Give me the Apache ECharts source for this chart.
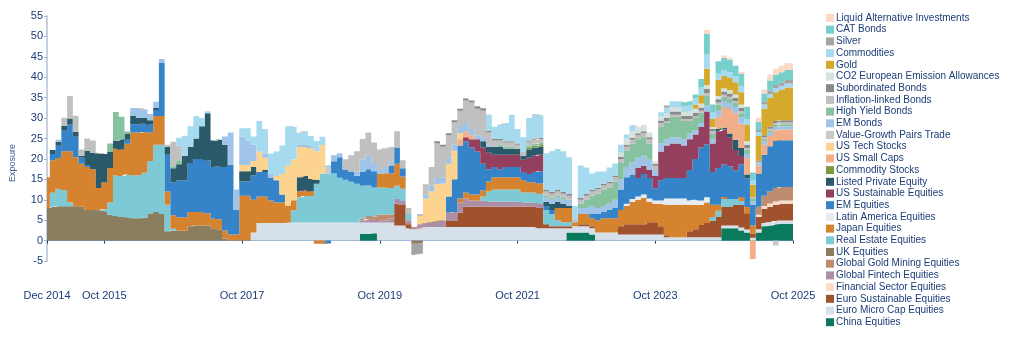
<!DOCTYPE html>
<html><head><meta charset="utf-8">
<script src="https://cdn.jsdelivr.net/npm/echarts@6/dist/echarts.min.js"></script>
<style>html,body{margin:0;padding:0;background:#fff}#c{width:1017px;height:347px}</style>
</head><body><div id="c"></div>
<script>
// Monthly categories Dec 2014 .. Oct 2025 (131 points)
const monthNames = ['Jan','Feb','Mar','Apr','May','Jun','Jul','Aug','Sep','Oct','Nov','Dec'];
const categories = [];
for (let k = 0; k < 131; k++) { const m = 11 + k; categories.push(monthNames[m % 12] + ' ' + (2014 + Math.floor(m / 12))); }
const tickLabels = ['Dec 2014','Oct 2015','Oct 2017','Oct 2019','Oct 2021','Oct 2023','Oct 2025'];

const china = [
0,0,0,0,0,0,0,0,0,0,
0,0,0,0,0,0,0,0,0,0,
0,0,0,0,0,0,0,0,0,0,
0,0,0,0,0,0,0,0,0,0,
0,0,0,0,0,0,0,0,0,0,
0,0,0,0,0,1.6,1.7,1.8,0,0,
0,0,0,0,0,0,0,0,0,0,
0,0,0,0,0,0,0,0,0,0,
0,0,0,0,0,0,0,0,0,0,
0,2,2,2,2,1.5,0,0,0,0,
0,0,0,0,0,0,0,0,0,0,
0,0,0,0,0,0,0,0,3,3,
3,2.5,2,0,2,3.5,3.7,4,4.1,4.1,
4.1];
const euroMicroCap = [
0,0,0,0,0,0,0,0,0,0,
0,0,0,0,0,0,0,0,0,0,
0,0,0,0,0,0,0,0,0,0,
0,0,0,0,0,0,2,4.3,4.3,4.3,
4.3,4.3,4.4,4.4,4.4,4.4,4.4,4.4,4.4,4.4,
4.4,4.4,4.4,4.4,4.4,2.8,2.8,2.6,4.4,4.4,
4.4,3.7,3.7,3,2.8,3,3.3,3.3,3.3,3.3,
3.3,3.3,3.3,3.3,3.3,3.3,3.3,3.3,3.3,3.3,
3.3,3.3,3.3,3.3,3.3,3.3,3,3,3,3,
3,1,1.5,1.5,1.5,1.5,2,2,2,2,
1.5,1.5,1.5,1.5,1.5,1.5,1.5,1.5,0.8,0.8,
0.8,0.8,0.8,0.8,0.8,0.8,0.8,0.8,0.7,0.7,
0.7,0.7,0.7,0.7,0.8,0.8,0.8,0.8,0.8,0.8,
0.8];
const euroSustainable = [
0,0,0,0,0,0,0,0,0,0,
0,0,0,0,0,0,0,0,0,0,
0,0,0,0,0,0,0,0,0,0,
0,0,0,0,0,0,0,0,0,0,
0,0,0,0,0,0,0,0,0,0,
0,0,0,0,0,0,0,0,0,0,
0,5.3,5,1,0,0,0,0,0,0,
1.5,1.5,3.5,5,5,5,5,5,5,5,
5,5,5,5,5,5,5,1,0.5,0.5,
0.5,0.5,0,0.5,0.5,0.5,0,0,0,0,
2,2.5,2.5,2.5,2.5,3,3,2,0.5,0,
0,0,1.5,2,3,3.5,4,5,4.5,4.5,
5,5.5,4,1,3,3.5,3.8,4,4.1,4.1,
4.1];
const financialSector = [
0,0,0,0,0,0,0,0,0,0,
0,0,0,0,0,0,0,0,0,0,
0,0,0,0,0,0,0,0,0,0,
0,0,0,0,0,0,0,0,0,0,
0,0,0,0,0,0,0,0,0,0,
0,0,0,0,0,0,0,0,0,0,
0,0,0,0,0,0,0,0,0,0,
0,0,0,0,0,0,0,0,0,0,
0,0,0,0,0,0,0,0,0,0,
0,0,0,0,0,0,0,0,0,0,
0,0,0,0,0,0,0,0,0,0,
0,0,0,0,0,0,0,0,0,0,
0,0,0,0,0.5,0.7,0.8,0.8,0.8,0.8,
0.8];
const globalFintech = [
0,0,0,0,0,0,0,0,0,0,
0,0,0,0,0,0,0,0,0,0,
0,0,0,0,0,0,0,0,0,0,
0,0,0,0,0,0,0,0,0,0,
0,0,0,0,0,0,0,0,0,0,
0,0,0,0,0,0.5,0.7,0.7,0.5,0.5,
1,1.2,1,1,0.5,1,1,1.2,1.5,1.7,
2,2.2,2.5,2,1.5,1.5,1.5,1.2,1.2,1.2,
1.2,1.2,1.2,1,1,1,1,0,0,0,
0,0,0,0,0,0,0,0,0,0,
0,0,0,0,0,0,0,0,0,0,
0,0,0,0,0,0,0,0,0,0,
0,0,0,0,0,0,0,0,0,0,
0];
const globalGoldMining = [
0,0,0,0,0,0,0,0,0,0,
0,0,0,0,0,0,0,0,0,0,
0,0,0,0,0,0,0,0,0,0,
0,0,0,0,0,0,0,0,0,0,
0,0,0,0,0,0,0,0,0,0,
0,0,0,0,0,0.5,0.8,0.8,1.5,1.5,
1,0,0,0,0,0,0,0,0,0,
0,0,0,0,0,0,0,0,0,0,
0,0,0,0,0,0,0,0,0,0,
0,0,0,0,0,0,0,0,0,0,
0,0,0,0,0,0,0,0,0,0,
0,0,0,0,0,0,0,0,0,0,
0,0,0,0,2,2.5,3,3.3,3.3,3.3,
3.3];
const ukEquities = [
8,8.2,8.4,8.4,8.4,8.4,8.3,7.5,7.5,7.4,
7.2,6.3,6,5.8,5.7,5.5,5.5,5.6,6.5,7,
6.5,2.3,2.4,2.4,2.4,3.5,3.7,3.7,3.7,3,
2.7,0.5,0,0,0,0,0,0,0,0,
0,0,0,0,0,0,0,0,0,0,
0,0,0,0,0,0,0,0,0,0,
0,0,0,0,-0.8,-0.7,0,0,0,0,
0,0,0,0,0,0,0,0,0,0,
0,0,0,0,0,0,0,0,0,0,
0,0,0,0,0,0,0,0,0,0,
0,0,0,0,0,0,0,0,0,0,
0,0,0,0,0,0,0,0,0,0,
0,0,0,0,0,0,0,0,0,0,
0];
const realEstate = [
0,3.5,4.3,4,1,0,0,0,0,0,
0.5,3,10,10,10.5,10.5,10.5,11,13,16.5,
17,6.5,0.5,0,0,0,0,0,0,0,
0,0,0,0,0,0,0,0,0,0,
0,0,0,3,6.2,6.5,6.5,9.5,12,12,
12,11,10.5,10,9.5,8,7.5,7.1,6.6,6.6,
6.5,3.2,3,1.5,0,0,0,0,0,0,
0,0,0,0,0,0,1,2.5,3,3,
3,3,3,2.5,2.5,2.5,2.5,3.5,3,1.5,
1,1,0,0,0,0,0,0,0,0,
0,0,0,0,0,0,0,0,0,0,
0,0,0,0,0,0,1,1.5,2,2,
1.5,1,0,0,0,0,0,0,0,0,
0];
const japan = [
7.5,8,7.5,9.5,12.5,12,10.5,10.5,10,5.5,
6.5,8.5,6.5,6.5,7.5,10.5,10.5,10,7,7,
7,3.2,3.3,3.3,3.3,3.5,3.3,3.3,3,2.5,
2.5,2,1.5,1.5,11,11,8,6.5,6.5,5.5,
5,5,4.2,2.5,1.5,1.5,1.2,-0.8,-0.8,0,
0,0,0,0,0,0,0,0,3.3,3.5,
3.5,5.4,3,0,0,0,0,0,0,0,
0,0,1,1.5,1.5,1.5,1.5,2.5,3,3,
3,3,3,3,2.5,2.5,2.5,0,0,3,
3.5,3.5,1,2.5,2.5,2,3,3.5,3.5,3.5,
4,4.5,5.5,6,6.5,5,4.5,5.5,7.5,8,
8,8,6.5,6,5,5,3,1.5,0.5,0,
0,1,1.5,2,0,0,0,0,0,0,
0];
const latinAmerica = [
0,0,0,0,0,0,0,0,0,0,
0,0,0,0,0,0,0,0,0,0,
0,0,0,0,0,0,0,0,0,0,
0,0,0,0,0,0,0,0,0,0,
0,0,0,0,0,0,0,0,0,0,
0,0,0,0,0,0,0,0,0,0,
0,0,0,0,0,0,0,0,0,0,
0,0,0,0,0,0,0,0,0,0,
0,0,0,0,0,0,0,0,0,0,
0,0,0,0,0,0,0,0,0,0,
0,0.5,0.7,0.8,0.8,0.8,0.8,0.8,1.5,1.5,
1.5,1.5,1,1.2,1,1.3,0,0,0,0,
0,0,0,0,0,0,0,0,0,0,
0];
const emEquities = [
0,1.5,3,5,6.5,5,1.5,0.5,0,0,
0,0,0,0,1,2,2,2,2,1.5,
13,9,8,9,9,12,13,13,13,12.5,
13,15.5,17,6,3.5,3.5,6,6,6,5.5,
5.5,2,0,0,0,0,0,0,0,-0.7,
3,5,2.5,2.5,2,3.5,4,4,0,0,
2,4,2,0,0,0,0,0,0,0,
4,8,13,12.5,11.5,10.5,6.5,3,2.5,2,
2.5,2.5,2.5,2,2,2.5,3,1,1,0,
0,0,0,0,0,1,1.5,1.5,2,2.5,
5,6.5,6,4.5,5,5,3,5,5,5,
5,5,7.5,10,13,13,8,9,8,8,
7,8,7,5,8,10,11,11.5,11.5,11.5,
11.5];
const usSustainable = [
0,0,0,0,0,0,0,0,0,0,
0,0,0,0,0,0,0,0,0,0,
0,0,0,0,0,0,0,0,0,0,
0,0,0,0,0,0,0,0,0,0,
0,0,0,0,0,0,0,0,0,0,
0,0,0,0,0,0,0,0,0,0,
0,0,0,0,0,0,0,0,0,0,
0,0,0,1,2,3,4,4,3,3.5,
3,3,3,3,4,4,4,0,0,0,
0,0,0,0,0,0,0,0,0,0,
0,0,0,2.5,2,2,3,7,8,8.5,
8.5,8,7.5,6,5,8,7,9,8.5,7,
5,2,0,0,0,0,0,0,0,0,
0];
const listedPE = [
0,1,1,1.2,1.5,1.2,0.5,3.5,4,8.5,
7,4,2,2.5,1.5,2,1.5,1.5,1,0.5,
0,2,3.5,4,6,4,5,8,11.5,6.5,
6.5,5.5,0,0,2.5,2.5,2,0,0.5,0,
0,0,0,0,3.4,3.5,3,1,0,0,
0,0,0,0,0,0,0,0,0,0,
0,0,0,0,0,0,0,0,0,0,
0,0,0,0,0,0,1.5,1.5,2,2,
1.5,1.5,1.5,1,2,2,2,1,1.5,1.5,
1,0.5,0,0,0,0,0,0,0,0,
0,0,0,0,0,0,0,0,0,0,
0,0,0,0,0,0,0,0.5,0.5,1,
2.5,2,1,0,0,0,0,0,0,0,
0];
const commodityStocks = [
0,0,0,0,0,0,0,0,0,0,
0,0,0,0,0,0,0,0,0,0,
0,0,0,0,0,0,0,0,0,0,
0,0,0,0,0,0,0,0,0,0,
0,0,0,0,0,0,0,0,0,0,
0,0,0,0,0,0,0,0,0,0,
0,0,0,0,0,0,0,0,0,0,
0,0,0,0,0,0,0,0,0,0,
0,0,0,0,0.4,0.4,0.4,0,0,0,
0,0,0,0,0,0,0,0,0,0,
0,0,0,0,0,0,0,0,0,0,
0,0,0,0,0,0,0,0,0,0,
0,0,0,0,0,0,0,0,0,0,
0];
const usSmallCaps = [
0,0,0,0,0,0,0,0,0,0,
0,0,0,0,0,0,0,0,0,0,
0,0,0,0,0,0,0,0,0,0,
0,0,0,0,0,0,0,0,0,0,
0,0,0,0,0,0,0,0,0,0,
0,0,0,0,0,0,0,0,0,0,
0,0,0,0,0,0,0,0,0,0,
0,0,1.5,1.5,1,0,0,0,0,0,
0,0,0,0,0,0,0,0,0,0,
0,0,0,0,0,0,0,0,0,0,
0,0,0,0,0,0,0,0,0,0,
0,0,0,0,0,0,0,3,5,6,
6.5,6,4,-4.5,2,2.5,2.5,2.6,2.6,2.6,
2.6];
const usTech = [
0,0,0,0,0,0,0,0,0,0,
0,0,0,0,0,0,0,0,0,0,
0,0,0,0,0,0,0,0,0,0,
0,0,0,0,1.5,1.5,1.5,5,3,0,
1,5,9.8,10,7.4,7,7.5,7,7,0,
0,0,0,0,0,0,0,0,0,0,
0,0,0,0,0,2,6,7.5,9,9,
8,7,1.5,0,0,0,0,0,0,0,
0,0,0,0,0,0,0,0,0,0,
0,0,0,0,0,0,0,0,0,0,
0,0,0,0,0,0,0,0,0,0,
0,0,0,0,0,0,0,0,0,0,
0,0,0,0,0,0,0,0,0,0,
0];
const valueGrowth = [
0,0,0,0,0,0,0,0,0,0,
0,0,0,0,0,0,0,0,0,0,
0,0,0,0,0,0,0,0,0,0,
0,0,0,0,0,0,0,0,0,0,
0,0,0,0,0,0,0,0,0,1.5,
0,0,0,0,0,0,0,0,0,0,
0,0,0,0,0,0,0,0,0,0,
0,0,0,0,0,0,0,0,0,0,
0,0,0,0,0,0,0,0,0,0,
0,0,0,0,0,0,0,0,0,0,
0,0,0,0,0,0,0,0,0,0,
0,0,0,0,0,0,0,0,0,0,
0,0,0,0,0,0,0,-1.2,0,0,
0];
const emBonds = [
0,0,0.5,0,0,0,0,0,0,0,
0,0,0,0,0,2,2.5,2,1.5,1.5,
1,0,0,0,0,0,0,0,0,0,
0,2,8,5,7,6,4,0,1,1,
0,0,0,0,0.5,0.6,0.5,0,0,0.5,
1.5,1,0,0,1,3,3.5,2,1,1.5,
1,0,0,0,0,0,1,1.5,1.5,1.5,
1.5,1.5,1.5,2,1.5,1,1,0.5,0,0,
0,0,0,0,0,0,0,1,1,1,
1,1.5,0.5,1.5,1.5,2,1.5,1.5,1.5,2,
2.5,2.5,3,2.5,2.5,2.5,1.5,2,1.5,1.5,
1.5,1.5,1.5,1,1,1.5,1,1.5,1.5,1.5,
1.5,1.5,1,1,0.5,0.8,0.8,0.8,0.8,0.8,
0.8];
const highYield = [
0,0,0,0,0,0,0,0,0,0,
0,2,7,5.5,0.5,0,0,0,0,0,
0,0,0.5,1,0,0,0,0,0,0,
0,0,0,0,0,0,0,0,0,0,
0,0,0,0,0,0,0,0,0,0,
0,0,0,0,0,0,0,0,0,0,
0,0,0,0,0,0,0,0,0,0,
0,0,0,0,0,0,0,0,0,0.5,
0.5,0.5,0,0,0.5,0.5,0.5,0.5,0.5,0.5,
0.5,0,0,1,2,2.5,3.5,4,4,4.5,
4,4,4.5,4.5,4.5,4,0,4,4,5,
5,4.5,3,3,2.5,2.5,1.5,1.5,1,1,
1,1,1,0.5,0,0.5,0.5,0.5,0.5,0.5,
0.5];
const inflationLinked = [
0,0,0,2,5.5,4,1.5,3,3,0,
0,0,0,0,0,0,0,0,0,0,
0,0.5,6,3.5,0,0,0,0,0,0,
0,0,0,0,0,0,0,0,0,0,
0,0,0,0,0,0,0,0,0,0,
0,0,2.5,4,5,5,5.5,5,5,4.5,
3.5,4,2,1.5,0,0.5,2.5,4.5,8.5,7.5,
5.5,5.5,4,5.5,6.5,6.5,6.5,3,1.5,1,
1,1,1,1,1,1,1,1,1,1,
1,1,0.5,1,1,1,1,1,1,1,
1,1,1,1,1,1,1,1,0.5,0.5,
0.5,0.5,0.5,0.5,0.5,0.5,0.5,0.5,0.5,0.5,
0.5,0.5,0.5,0.5,0.5,0.5,0.5,0.5,0.5,0.5,
0.5];
const subordinated = [
0,0,0,0,0,0,0,0,0,0,
0,0,0,0,0,0,0,0,0,0,
0,0,0,0,0,0,0,0,0,0,
0,0,0,0,0,0,0,0,0,0,
0,0,0,0,0,0,0,0,0,0,
0,0,0,0,0,0,0,0,0,0,
0,0,0,0,0,0,0,0,0.5,0.5,
0.5,0.5,0.5,0.5,0.5,0.6,0.6,0.4,0.4,0.4,
0.3,0.3,0.3,0,0.3,0.3,0.3,0.4,0.4,0.4,
0.4,0.4,0,0.4,0.4,0.4,0.4,0.4,0.4,0.4,
0.5,0.5,0.5,0.5,0.5,0.5,0.5,0.6,0.8,0.8,
0.8,0.8,0.8,0.8,0.8,1,0.5,0.8,0.8,0.8,
0.8,0.8,0.8,0,0.3,0.5,0.5,0.5,0.5,0.5,
0.5];
const co2 = [
0,0,0,0,0,0,0,0,0,0,
0,0,0,0,0,0,0,0,0,0,
0,0,0,0,0,0,0,0,0,0,
0,0,0,0,0,0,0,0,0,0,
0,0,0,0,0,0,0,0,0,0,
0,0,0,0,0,0,0,0,0,0,
0,0,0,0,0,0,0,0,0,0,
0,0,0,0,0,0,0,0,0,0,
0,0,0,0,0,0,0,0,0,0,
0,0,0,0,0,0,0,0,0,0,
1,1.5,1.5,1.5,1.5,1.2,0.5,1,1,1,
1,0.8,1,1,1,1,0.5,0.8,0.8,0.8,
0.8,0.8,0.8,0,0,0,0,0,0,0,
0];
const gold = [
0,0,0,0,0,0,0,0,0,0,
0,0,0,0,0,0,0,0,0,0,
0,0,0,0,0,0,0,0,0,0,
0,0,0,0,0,0,0,0,0,0,
0,0,0,0,0,0,0,0,0,0,
0,0,0,0,0,0,0,0,0,0,
0,0,0,0,0,0,0,0,0,0,
0,0,0,0,0,0,0,0,0,0,
0,0,0,0,0,0,0,0,0,0,
0,0,0,0,0,0,0,0,0,0,
0,0,0,0,0,0,0,0,0,0,
0,0,0,1,2,4,2,4,3,3,
3,3,4,3,6,6.5,7,7,7.4,8,
8];
const commodities = [
0,0,0,0,0,0,0,0,0,0,
0,0,0,0,0,0,0,0,0,0,
0,0,0,2,5,5,5.5,2,0.5,0,
0,0,0,0,2,3,2,7.5,6,5,
6,7,9.6,8,3,3.3,2.5,2.5,2,0,
0,0,0,0,0,0,0,0,0,0,
0,0,0,0,0,0,0,0,0,0,
0,0,0,0,0,0,0,4,3,3.5,
4.5,6.5,3.5,3.5,5.5,6,5.5,9,10,10,
10,9,3,8,6.5,4,4,3,3.5,3,
2,1,1.5,0,0,0,0,1,1.5,1.5,
1.5,1.5,1.5,1.5,2,3.5,1.5,1.5,1.5,1.5,
1.5,1.5,1.5,1,1,1,1,1,1,1,
1];
const silver = [
0,0,0,0,0,0,0,0,0,0,
0,0,0,0,0,0,0,0,0,0,
0,0,0,0,0,0,0,0,0,0,
0,0,0,0,0,0,0,0,0,0,
0,0,0,0,0,0,0,0,0,0,
0,0,0,0,0,0,0,0,0,0,
0,0,0,0,-2.7,-2.5,0,0,0,0,
0,0,0,0,0,0,0,0,0,0,
0,0,0,0,0,0,0,0,0,0,
0,0,0,0,0,0,0,0,0,0,
0,0,0,0,0,0,0,0,0.5,0,
0,0,0,0,0,0,0,0,0,0,
0,0,0,0,0.5,0.7,0.8,0.8,0.8,0.8,
0.8];
const catBonds = [
0,0,0,0,0,0,0,0,0,0,
0,0,0,0,0,0,0,0,0,0,
0,0,0,0,0,0,0,0,0,0,
0,0,0,0,0,0,0,0,0,0,
0,0,0,0,0,0,0,0,0,0,
0,0,0,0,0,0,0,0,0,0,
0,0,0,0,0,0,0,0,0,0,
0,0,0,0,0,0,0,0,0,0,
0,0,0,0,0,0,0,0,0,0,
0,0,0,0,0,0,0,0,0,0,
0,0,0,0,0,0,0,0,0,0,
0,1,1,1,2,5,2,3,3,3,
2.5,3,3,2,2,2,2.5,2.5,2.5,2.5,
2.5];
const liquidAlt = [
0,0,0,0,0,0,0,0,0,0,
0,0,0,0,0,0,0,0,0,0,
0,0,0,0,0,0,0,0,0,0,
0,0,0,0,0,0,0,0,0,0,
0,0,0,0,0,0,0,0,0,0,
0,0,0,0,0,0,0,0,0,0,
0,0,0,0,0,0,0,0,0,0,
0,0,0,0,0,0,0,0,0,0,
0,0,0,0,0,0,0,0,0,0,
0,0,0,0,0,0,0,0,0,0,
0,0,0,0,0,0,0,0,0,0,
0,0,0,0,0,1,0,0,0.5,0.5,
0,0.5,0,0,1,1,1.5,1.5,1.6,1.6,
1.6];

// Stack order: bottom -> top
const seriesNames = ['China Equities','Euro Micro Cap Equities','Euro Sustainable Equities','Financial Sector Equities','Global Fintech Equities','Global Gold Mining Equities','UK Equities','Real Estate Equities','Japan Equities','Latin America Equities','EM Equities','US Sustainable Equities','Listed Private Equity','Commodity Stocks','US Small Caps','US Tech Stocks','Value-Growth Pairs Trade','EM Bonds','High Yield Bonds','Inflation-linked Bonds','Subordinated Bonds','CO2 European Emission Allowances','Gold','Commodities','Silver','CAT Bonds','Liquid Alternative Investments'];
const seriesData = [china,euroMicroCap,euroSustainable,financialSector,globalFintech,globalGoldMining,ukEquities,realEstate,japan,latinAmerica,emEquities,usSustainable,listedPE,commodityStocks,usSmallCaps,usTech,valueGrowth,emBonds,highYield,inflationLinked,subordinated,co2,gold,commodities,silver,catBonds,liquidAlt];
const seriesColors = ['#0b7a5c','#d6e0ea','#a0522d','#fcdcc8','#ae8ea6','#c08c6f','#8a7e5e','#7ec9d6','#d5832f','#e6ecf1','#3584c9','#953f5f','#2a5a6a','#7c9a3a','#f2ae88','#fdd48f','#c9c9c9','#9fc4e8','#87c2a0','#c0c0c0','#8a8a8a','#d4e1dc','#d5a92b','#a6daee','#a4a4a4','#76cfcb','#fcd9c7'];

const textColor = '#1c3c78';
const chart = echarts.init(document.getElementById('c'), null, {renderer: 'canvas'});
chart.setOption({
  animation: false,
  grid: {left: 47, right: 224, top: 16, bottom: 86, containLabel: false},
  legend: {
    orient: 'vertical', left: 821, top: 8,
    itemWidth: 8, itemHeight: 8, itemGap: 1.7, icon: 'rect',
    textStyle: {fontSize: 10, color: textColor, fontFamily: 'Liberation Sans, Arial, sans-serif', lineHeight: 10, padding: [0,0,0,-3]},
    data: seriesNames.slice().reverse(),
    selectedMode: false
  },
  xAxis: {
    type: 'category', data: categories, boundaryGap: false,
    axisLine: {onZero: true, lineStyle: {color: '#6f93c8', width: 1}},
    axisTick: {show: true, length: 3, lineStyle: {color: textColor}, interval: (i, v) => tickLabels.includes(v)},
    axisLabel: {interval: (i, v) => tickLabels.includes(v), margin: 29, fontSize: 11, color: textColor, fontFamily: 'Liberation Sans, Arial, sans-serif'},
    splitLine: {show: false}
  },
  yAxis: {
    type: 'value', min: -5, max: 55, interval: 5,
    axisLine: {show: true, lineStyle: {color: '#c3d1e4', width: 2}},
    axisTick: {show: true, length: 3, lineStyle: {color: '#9fb3cf'}},
    axisLabel: {fontSize: 11, color: textColor, margin: 4, fontFamily: 'Liberation Sans, Arial, sans-serif'},
    splitLine: {show: false}
  },
  graphic: [{
    type: 'text', x: 13, y: 163, rotation: Math.PI / 2,
    style: {text: 'Exposure', fill: '#3a5a8c', font: '9px Liberation Sans, Arial, sans-serif', textAlign: 'center', textVerticalAlign: 'middle'}
  }],
  series: seriesNames.map((n, k) => ({
    name: n, type: 'line', stack: 'total', data: seriesData[k],
    step: 'middle',
    symbol: 'none', showSymbol: false, smooth: false,
    lineStyle: {width: 0}, itemStyle: {color: seriesColors[k]},
    areaStyle: {color: seriesColors[k], opacity: 1},
    emphasis: {disabled: true}, silent: true
  }))
});
</script></body></html>
